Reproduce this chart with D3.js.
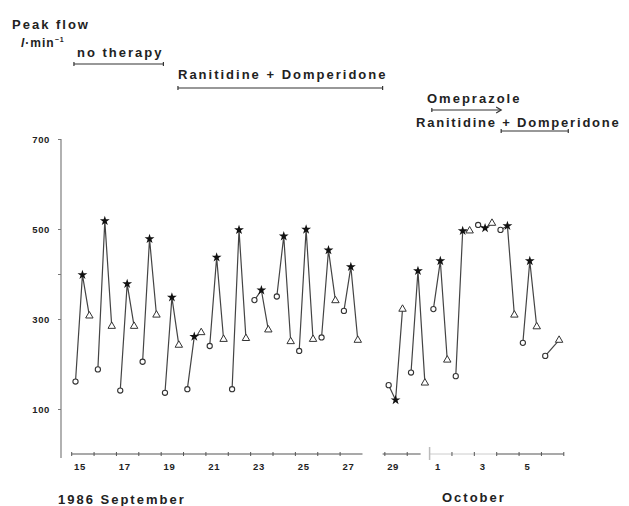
<!DOCTYPE html>
<html lang="en">
<head>
<meta charset="UTF-8">
<script src="https://cdn.jsdelivr.net/npm/d3@7"></script>
<title>Peak flow</title>
<style>
  body { margin: 0; background: #fff; }
  text { font-family: "Liberation Sans", Arial, sans-serif; font-weight: bold; fill: #222; }
  .lbl { font-size: 13px; letter-spacing: 2px; }
  .tk { font-size: 9.5px; letter-spacing: 0.6px; }
</style>
</head>
<body>
<script>
// day number: Sept 15 = 15 ... Oct 1 = 31, Oct 6 = 36 (no data on Sept 28)
const days    = [15, 16, 17, 18, 19, 20, 21, 22, 23, 24, 25, 26, 27, 29, 30, 31, 32, 33, 34, 35, 36];
const morning = [161, 188, 141, 205, 136, 144, 240, 144, 342, 350, 229, 259, 318, 153, 181, 322, 173, 509, 498, 247, 218];
const midday  = [398, 518, 378, 478, 348, 261, 437, 498, 364, 484, 499, 453, 416, 120, 407, 429, 496, 502, 507, 429, null];
const evening = [307, 284, 284, 309, 242, 270, 255, 257, 276, 250, 255, 341, 253, 322, 158, 209, 496, 513, 309, 283, 253];

const yTicks = [100, 300, 400, 500, 700];
const dayLabels = [15, 17, 19, 21, 23, 25, 27, 29, 31, 33, 35];

// therapy periods (day numbers)
const periods = [
  {name: "no therapy", from: 15.1, to: 19.1},
  {name: "Ranitidine + Domperidone", from: 19.75, to: 28.9},
  {name: "Omeprazole", from: 31.1, to: 34.2},
  {name: "Ranitidine + Domperidone", from: 34.2, to: 37.2}
];

const width = 629, height = 506;
const svg = d3.select("body").append("svg")
  .attr("width", width)
  .attr("height", height);

const x = d3.scaleLinear().domain([15, 37]).range([71.7, 563.8]);
const y = d3.scaleLinear().domain([0, 700]).range([454, 139]);

const frac = {m: 0.17, n: 0.48, e: 0.79};

// y axis
svg.append("line")
  .attr("x1", 61).attr("x2", 61)
  .attr("y1", y(700)).attr("y2", y(-9))
  .attr("stroke", "#888").attr("stroke-width", 1.3);

const yAxis = svg.append("g")
  .attr("transform", "translate(61,0)")
  .call(d3.axisLeft(y).tickValues(yTicks).tickSize(3).tickPadding(8)
    .tickFormat(d => d === 400 ? "" : d));
yAxis.select(".domain").remove();
yAxis.selectAll("line").attr("stroke", "#777");
yAxis.selectAll("text").attr("class", "tk").attr("fill", "#222");

// x axis, broken
const solid = [[15, 28], [28.9, 30.6], [34, 37]];
svg.selectAll(".xseg").data(solid).join("line")
  .attr("x1", d => x(d[0])).attr("x2", d => x(d[1]))
  .attr("y1", 454).attr("y2", 454)
  .attr("stroke", "#555").attr("stroke-width", 1.2);
svg.append("line")
  .attr("x1", x(31)).attr("x2", x(34))
  .attr("y1", 454).attr("y2", 454)
  .attr("stroke", "#ccc").attr("stroke-width", 1);
svg.append("line")
  .attr("x1", x(31)).attr("x2", x(31))
  .attr("y1", 447).attr("y2", 460)
  .attr("stroke", "#bbb").attr("stroke-width", 1.5);

const tickDays = d3.range(15, 38).filter(d => d !== 28 && d !== 31);
svg.selectAll(".xt").data(tickDays).join("line")
  .attr("x1", d => x(d)).attr("x2", d => x(d))
  .attr("y1", 452).attr("y2", 456)
  .attr("stroke", "#555");

svg.selectAll(".xl").data(dayLabels).join("text")
  .attr("class", "tk")
  .attr("x", d => x(d + 0.37))
  .attr("y", 470)
  .attr("text-anchor", "middle")
  .text(d => d > 30 ? d - 30 : d);

// data
const line = d3.line().x(d => d.x).y(d => d.y);
const groups = days.map((d, i) => [
  {t: "m", v: morning[i]}, {t: "n", v: midday[i]}, {t: "e", v: evening[i]}
].filter(p => p.v != null).map(p => ({t: p.t, x: x(d + frac[p.t]), y: y(p.v)})));

svg.append("g").selectAll("path").data(groups).join("path")
  .attr("d", line)
  .attr("fill", "none")
  .attr("stroke", "#444")
  .attr("stroke-width", 1.2);

const pts = groups.flat();
const star = d3.symbol().type(d3.symbolStar).size(30);
const tri = d3.symbol().type(d3.symbolTriangle).size(24);

svg.append("g").selectAll("circle").data(pts.filter(p => p.t === "m")).join("circle")
  .attr("cx", d => d.x).attr("cy", d => d.y).attr("r", 2.6)
  .attr("fill", "#fff").attr("stroke", "#333").attr("stroke-width", 1.1);
svg.append("g").selectAll("path").data(pts.filter(p => p.t === "n")).join("path")
  .attr("d", star).attr("transform", d => `translate(${d.x},${d.y})`)
  .attr("fill", "#111");
svg.append("g").selectAll("path").data(pts.filter(p => p.t === "e")).join("path")
  .attr("d", tri).attr("transform", d => `translate(${d.x},${d.y})`)
  .attr("fill", "#fff").attr("stroke", "#333").attr("stroke-width", 1);

// titles
svg.append("text").attr("class", "lbl").attr("x", 12).attr("y", 29).text("Peak flow");
const unit = svg.append("text").attr("class", "lbl").attr("x", 21).attr("y", 47)
  .style("letter-spacing", "1px").style("font-size", "12px");
unit.append("tspan").attr("font-style", "italic").text("l");
unit.append("tspan").text("·min");
unit.append("tspan").attr("font-size", 7).attr("dy", -5).text("−1");

svg.append("text").attr("class", "lbl").attr("x", 77).attr("y", 57).text("no therapy");
svg.append("text").attr("class", "lbl").attr("x", 178).attr("y", 79).text("Ranitidine + Domperidone");
svg.append("text").attr("class", "lbl").attr("x", 427).attr("y", 103).text("Omeprazole");
svg.append("text").attr("class", "lbl").attr("x", 416).attr("y", 127)
  .style("letter-spacing", "1.8px").text("Ranitidine + Domperidone");

const barY = [64, 88, 110, 131];
periods.forEach((p, i) => {
  const g = svg.append("g").attr("stroke", "#333").attr("stroke-width", 1.2);
  g.append("line").attr("x1", x(p.from)).attr("x2", x(p.to)).attr("y1", barY[i]).attr("y2", barY[i]);
  g.append("line").attr("x1", x(p.from)).attr("x2", x(p.from)).attr("y1", barY[i] - 2).attr("y2", barY[i] + 2);
  if (i === 2) {
    g.append("path").attr("d", `M${x(p.to) - 5},${barY[i] - 3}L${x(p.to)},${barY[i]}L${x(p.to) - 5},${barY[i] + 3}`)
      .attr("fill", "none");
  } else {
    g.append("line").attr("x1", x(p.to)).attr("x2", x(p.to)).attr("y1", barY[i] - 2).attr("y2", barY[i] + 2);
  }
});

svg.append("text").attr("class", "lbl").attr("x", 58).attr("y", 504).text("1986 September");
svg.append("text").attr("class", "lbl").attr("x", 442).attr("y", 502).text("October");
</script>
</body>
</html>
